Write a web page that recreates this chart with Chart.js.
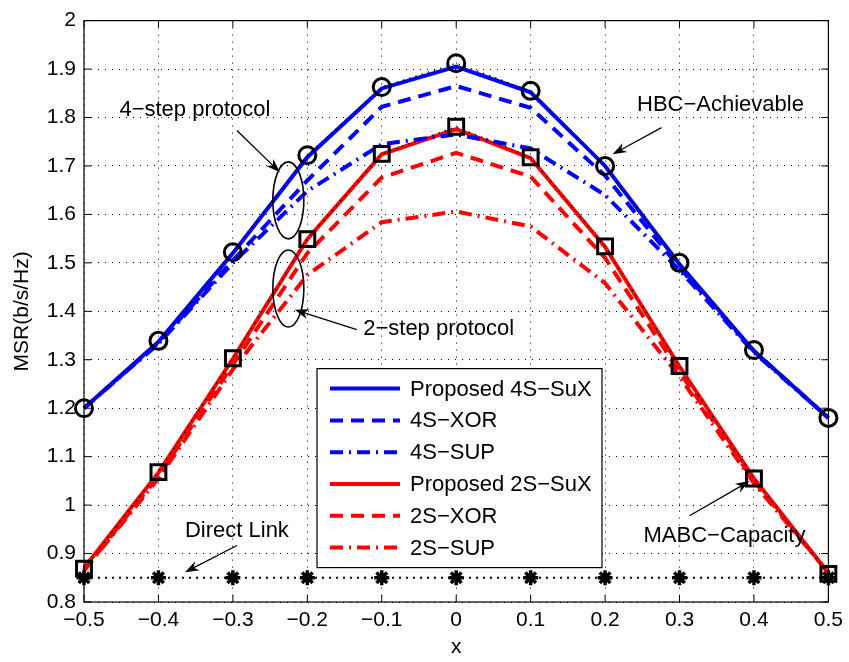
<!DOCTYPE html>
<html lang="en">
<head>
  <meta charset="UTF-8" />
  <title>MSR vs x</title>
  <script src="https://cdn.jsdelivr.net/npm/chart.js"></script>
  <style>
    html, body { margin: 0; padding: 0; background: #fff; }
  </style>
</head>
<body>
  <canvas id="msrChart" width="849" height="662"></canvas>

  <script>
    // x positions
    const xValues = [-0.5, -0.4, -0.3, -0.2, -0.1, 0, 0.1, 0.2, 0.3, 0.4, 0.5];

    // 4-step protocol
    const sux4 = [1.20, 1.337, 1.520, 1.718, 1.860, 1.905, 1.852, 1.700, 1.497, 1.318, 1.180];
    const xor4 = [1.20, 1.335, 1.505, 1.670, 1.822, 1.865, 1.820, 1.680, 1.490, 1.318, 1.180];
    const sup4 = [1.20, 1.333, 1.500, 1.648, 1.745, 1.765, 1.736, 1.640, 1.485, 1.315, 1.180];

    // 2-step protocol
    const sux2 = [0.870, 1.067, 1.302, 1.549, 1.724, 1.776, 1.716, 1.533, 1.286, 1.055, 0.860];
    const xor2 = [0.865, 1.060, 1.290, 1.520, 1.676, 1.727, 1.678, 1.510, 1.275, 1.050, 0.860];
    const sup2 = [0.865, 1.055, 1.280, 1.475, 1.584, 1.606, 1.575, 1.458, 1.265, 1.045, 0.860];

    // bounds
    const hbcAchievable = [1.200, 1.339, 1.522, 1.722, 1.863, 1.912, 1.855, 1.700, 1.500, 1.320, 1.180];
    const mabcCapacity = [0.869, 1.068, 1.303, 1.549, 1.725, 1.781, 1.718, 1.534, 1.287, 1.055, 0.858];
    const directLink = [0.85, 0.85, 0.85, 0.85, 0.85, 0.85, 0.85, 0.85, 0.85, 0.85, 0.85];

    const seriesNames = ["Proposed 4S\u2212SuX", "4S\u2212XOR", "4S\u2212SUP",
                         "Proposed 2S\u2212SuX", "2S\u2212XOR", "2S\u2212SUP"];

    const FONT = "'Liberation Sans', Arial, Helvetica, sans-serif";
    const BLUE = "#0000ff";
    const RED = "#ff0000";
    const DASH = [13, 8];
    const DASHDOT = [13, 6, 2, 6];

    function pts(ys) {
      return xValues.map((x, i) => ({ x: x, y: ys[i] }));
    }

    function colored(label, ys, color, dash) {
      return {
        label: label,
        data: pts(ys),
        borderColor: color,
        backgroundColor: color,
        borderWidth: 4,
        borderDash: dash,
        pointRadius: 0,
        tension: 0,
        clip: false,
        order: 2
      };
    }

    function bound(label, ys, style, radius, width) {
      return {
        label: label,
        data: pts(ys),
        borderColor: "#000",
        backgroundColor: "rgba(0,0,0,0)",
        borderWidth: 1.2,
        borderDash: [1.5, 5],
        pointStyle: style,
        pointRadius: radius,
        pointBorderWidth: width,
        pointBorderColor: "#000",
        pointBackgroundColor: "rgba(0,0,0,0)",
        tension: 0,
        clip: false,
        order: 0
      };
    }

    const datasets = [
      colored(seriesNames[0], sux4, BLUE, []),
      colored(seriesNames[1], xor4, BLUE, DASH),
      colored(seriesNames[2], sup4, BLUE, DASHDOT),
      colored(seriesNames[3], sux2, RED, []),
      colored(seriesNames[4], xor2, RED, DASH),
      colored(seriesNames[5], sup2, RED, DASHDOT),
      bound("HBC\u2212Achievable", hbcAchievable, "circle", 8.5, 3),
      bound("MABC\u2212Capacity", mabcCapacity, "rect", 10.5, 3),
      bound("Direct Link", directLink, "star", 7.5, 3.5)
    ];
    datasets[8].borderWidth = 2;
    datasets[8].borderDash = [2, 5];

    function arrow(ctx, x1, y1, x2, y2) {
      const a = Math.atan2(y2 - y1, x2 - x1);
      const len = 14, half = 5;
      ctx.beginPath();
      ctx.moveTo(x1, y1);
      ctx.lineTo(x2 - Math.cos(a) * len * 0.6, y2 - Math.sin(a) * len * 0.6);
      ctx.stroke();
      ctx.beginPath();
      ctx.moveTo(x2, y2);
      ctx.lineTo(x2 - Math.cos(a) * len + Math.sin(a) * half, y2 - Math.sin(a) * len - Math.cos(a) * half);
      ctx.lineTo(x2 - Math.cos(a) * len * 0.7, y2 - Math.sin(a) * len * 0.7);
      ctx.lineTo(x2 - Math.cos(a) * len - Math.sin(a) * half, y2 - Math.sin(a) * len + Math.cos(a) * half);
      ctx.closePath();
      ctx.fill();
    }

    const decorations = {
      id: "decorations",
      afterDraw(chart) {
        const ctx = chart.ctx;
        const area = chart.chartArea;
        const xs = chart.scales.x, ys = chart.scales.y;
        const px = v => xs.getPixelForValue(v);
        const py = v => ys.getPixelForValue(v);

        ctx.save();
        ctx.strokeStyle = "#000";
        ctx.fillStyle = "#000";
        ctx.setLineDash([]);

        // box and inward ticks
        ctx.lineWidth = 1.2;
        ctx.strokeRect(area.left, area.top, area.right - area.left, area.bottom - area.top);
        ctx.lineWidth = 1;
        ctx.beginPath();
        xs.ticks.forEach(t => {
          const x = px(t.value);
          ctx.moveTo(x, area.bottom); ctx.lineTo(x, area.bottom - 7);
          ctx.moveTo(x, area.top); ctx.lineTo(x, area.top + 7);
        });
        ys.ticks.forEach(t => {
          const y = py(t.value);
          ctx.moveTo(area.left, y); ctx.lineTo(area.left + 7, y);
          ctx.moveTo(area.right, y); ctx.lineTo(area.right - 7, y);
        });
        ctx.stroke();

        // axis titles
        ctx.font = "21px " + FONT;
        ctx.textAlign = "center";
        ctx.textBaseline = "middle";
        ctx.fillText("x", (area.left + area.right) / 2, 647);
        ctx.save();
        ctx.translate(22, (area.top + area.bottom) / 2);
        ctx.rotate(-Math.PI / 2);
        ctx.fillText("MSR(b/s/Hz)", 0, 0);
        ctx.restore();

        // annotations
        ctx.font = "22px " + FONT;
        ctx.fillText("4\u2212step protocol", px(-0.351), py(1.816));
        ctx.fillText("2\u2212step protocol", px(-0.0235), py(1.364));
        ctx.fillText("HBC\u2212Achievable", px(0.355), py(1.826));
        ctx.fillText("MABC\u2212Capacity", px(0.3604), py(0.937));
        ctx.fillText("Direct Link", px(-0.2946), py(0.947));

        ctx.lineWidth = 1.3;
        arrow(ctx, px(-0.2946), py(1.773), px(-0.2369), py(1.687));
        arrow(ctx, px(-0.1336), py(1.362), px(-0.2168), py(1.403));
        arrow(ctx, px(0.2758), py(1.779), px(0.2101), py(1.724));
        arrow(ctx, px(0.3134), py(0.978), px(0.394), py(1.0495));
        arrow(ctx, px(-0.2946), py(0.9166), px(-0.3644), py(0.8614));

        ctx.lineWidth = 1.6;
        [[-0.2255, 1.629], [-0.2255, 1.447]].forEach(([cx, cy]) => {
          ctx.beginPath();
          ctx.ellipse(px(cx), py(cy), 15.5, 38.5, 0, 0, Math.PI * 2);
          ctx.stroke();
        });

        // legend box
        const lx = area.left + 233, ly = area.top + 348, lw = 285, lh = 199;
        ctx.fillStyle = "#fff";
        ctx.fillRect(lx, ly, lw, lh);
        ctx.lineWidth = 1.2;
        ctx.strokeRect(lx, ly, lw, lh);
        ctx.textAlign = "left";
        ctx.font = "22px " + FONT;
        for (let i = 0; i < 6; i++) {
          const ds = chart.data.datasets[i];
          const y = ly + 20 + i * 31.8;
          ctx.strokeStyle = ds.borderColor;
          ctx.lineWidth = ds.borderWidth;
          ctx.setLineDash(ds.borderDash);
          ctx.beginPath();
          ctx.moveTo(lx + 13, y);
          ctx.lineTo(lx + 83, y);
          ctx.stroke();
          ctx.setLineDash([]);
          ctx.fillStyle = "#000";
          ctx.fillText(ds.label, lx + 93, y + 1);
        }
        ctx.restore();
      }
    };

    const ctx = document.getElementById("msrChart").getContext("2d");
    new Chart(ctx, {
      type: "line",
      data: { datasets: datasets },
      options: {
        responsive: false,
        animation: false,
        devicePixelRatio: 1,
        layout: { padding: { top: 15, right: 20, left: 0, bottom: 0 } },
        plugins: {
          legend: { display: false },
          tooltip: { enabled: false }
        },
        scales: {
          x: {
            type: "linear",
            min: -0.5,
            max: 0.5,
            afterFit: s => { s.height = 60; },
            ticks: {
              stepSize: 0.1,
              color: "#000",
              padding: 6,
              maxRotation: 0,
              font: { family: FONT, size: 21 },
              callback: v => {
                if (Math.abs(v) < 1e-9) return "0";
                return (v < 0 ? "\u2212" : "") + Math.abs(v).toFixed(1);
              }
            },
            grid: { color: "#000", lineWidth: 1, drawTicks: false },
            border: { display: false, dash: [1, 6] }
          },
          y: {
            min: 0.8,
            max: 2,
            afterFit: s => { s.width = 84; },
            ticks: {
              stepSize: 0.1,
              color: "#000",
              padding: 8,
              font: { family: FONT, size: 21 },
              callback: v => {
                if (Math.abs(v - 1) < 1e-9) return "1";
                if (Math.abs(v - 2) < 1e-9) return "2";
                return v.toFixed(1);
              }
            },
            grid: { color: "#000", lineWidth: 1, drawTicks: false },
            border: { display: false, dash: [1, 6] }
          }
        }
      },
      plugins: [decorations]
    });
  </script>
</body>
</html>
